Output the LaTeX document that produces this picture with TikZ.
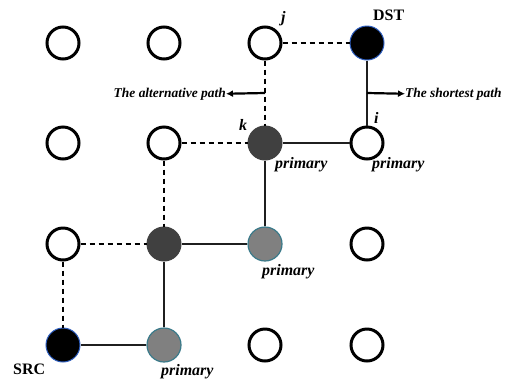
\documentclass[tikz,border=0pt]{standalone}
\usepackage{fontspec}
\setmainfont{Liberation Serif}
\usetikzlibrary{arrows.meta}
\definecolor{darkfill}{HTML}{404040}
\definecolor{midfill}{HTML}{808080}
\definecolor{tealedge}{HTML}{3A7A8A}
\definecolor{blueedge}{HTML}{2F5FC0}
\begin{document}
\begin{tikzpicture}[x=1bp,y=-1bp,
  vtx/.style={circle,draw=black,line width=3bp,fill=white,minimum size=32bp,inner sep=0pt},
  endv/.style={vtx,draw=blueedge,line width=1bp,fill=black,minimum size=34bp},
  darkv/.style={vtx,draw=darkfill,line width=1bp,fill=darkfill,minimum size=34bp},
  grayv/.style={vtx,draw=tealedge,line width=1.2bp,fill=midfill,minimum size=34bp},
  solidedge/.style={line width=2.6bp,draw=black!88},
  dashedge/.style={line width=2.8bp,draw=black,dash pattern=on 5bp off 4bp},
  plbl/.style={font=\fontsize{16}{16}\selectfont\bfseries\itshape,inner sep=0pt,anchor=base west},
  albl/.style={font=\fontsize{13.5}{13.5}\selectfont\bfseries\itshape,inner sep=0pt},
  tag/.style={font=\fontsize{16}{16}\selectfont\bfseries,inner sep=0pt,anchor=base west},
  arr/.style={line width=2.2bp,-{Latex[length=7bp,width=7bp]}}
]
\useasboundingbox (0,0) rectangle (505,379);
% grid nodes: n<col><row>, col 1..4 left to right, row 1..4 top to bottom
\node[vtx]  (n11) at (63,43) {};
\node[vtx]  (n21) at (164,43) {};
\node[vtx]  (j)   at (265,43) {};
\node[endv] (dst) at (367,43) {};
\node[vtx]  (n12) at (63,143) {};
\node[vtx]  (n22) at (164,143) {};
\node[darkv](k)   at (265,143) {};
\node[vtx]  (i)   at (367,143) {};
\node[vtx]  (n13) at (63,244) {};
\node[darkv](n23) at (164,244) {};
\node[grayv](n33) at (265,244) {};
\node[vtx]  (n43) at (367,244) {};
\node[endv] (src) at (63,345) {};
\node[grayv](n24) at (164,345) {};
\node[vtx]  (n34) at (265,345) {};
\node[vtx]  (n44) at (367,345) {};
% solid shortest path
\draw[solidedge] (dst) -- (i);
\draw[solidedge] (i) -- (k);
\draw[solidedge] (k) -- (n33);
\draw[solidedge] (n33) -- (n23);
\draw[solidedge] (n23) -- (n24);
\draw[solidedge] (n24) -- (src);
% dashed alternative path
\draw[dashedge] (j) -- (dst);
\draw[dashedge] (j) -- (k);
\draw[dashedge] (n22) -- (k);
\draw[dashedge] (n22) -- (n23);
\draw[dashedge] (n13) -- (n23);
\draw[dashedge] (n13) -- (src);
% pointer arrows
\coordinate (sp) at (367,93);
\coordinate (ap) at (265,93);
\node[albl,anchor=base west] (stxt) at (405,97) {The shortest path};
\node[albl,anchor=base east] (atxt) at (226,97) {The alternative path};
\draw[arr] (sp) -- (stxt.west);
\draw[arr] (ap) -- (atxt.east);
% labels
\node[tag] (dstl) at (373,20) {DST};
\node[tag] (srcl) at (13,374) {SRC};
\node[plbl] (jl) at (281,22) {j};
\node[plbl] (kl) at (239,130) {k};
\node[plbl] (il) at (374,123) {i};
\node[plbl] (p1) at (275,168) {primary};
\node[plbl] (p2) at (372,168) {primary};
\node[plbl] (p3) at (262,275) {primary};
\node[plbl] (p4) at (161,375) {primary};
\end{tikzpicture}
\end{document}
